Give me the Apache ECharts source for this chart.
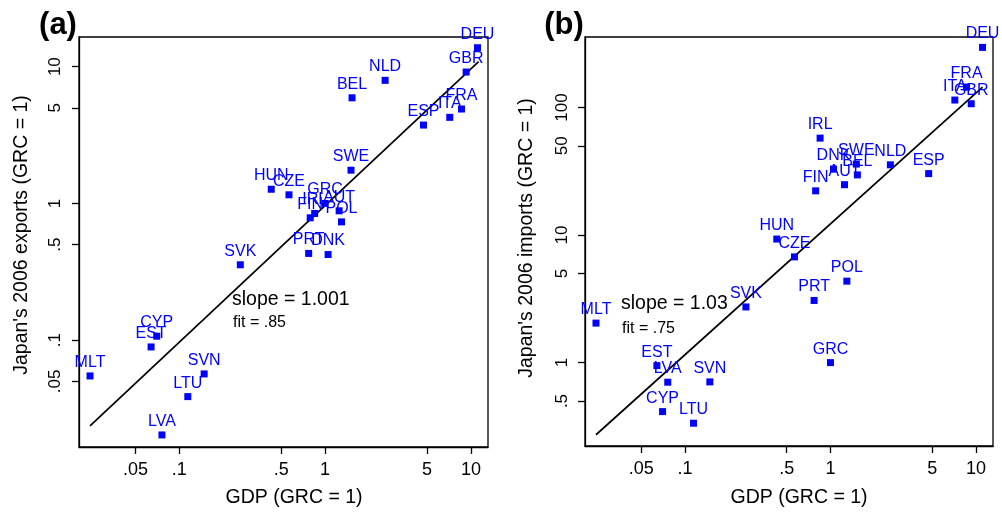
<!DOCTYPE html>
<html>
<head>
<meta charset="utf-8">
<script src="https://cdn.jsdelivr.net/npm/echarts@6/dist/echarts.min.js"></script>
<style>
html,body{margin:0;padding:0;background:#fff;}
#chart{width:1002px;height:513px;}
</style>
</head>
<body>
<div id="chart"></div>
<script>
// ---- data ----
const countries = ['DEU','GBR','FRA','ITA','ESP','NLD','BEL','SWE','AUT','DNK','POL','GRC','IRL','FIN','PRT','CZE','HUN','SVK','SVN','LTU','LVA','EST','CYP','MLT'];
const gdp     = [11.1, 9.28, 8.62, 7.16, 4.73, 2.58, 1.53, 1.505, 1.248, 1.048, 1.295, 1, 0.848, 0.79, 0.771, 0.565, 0.427, 0.262, 0.148, 0.1143, 0.076, 0.064, 0.070, 0.0244];
const exportsJ = [13.75, 9.13, 4.90, 4.26, 3.74, 7.94, 5.92, 1.75, 0.883, 0.423, 0.733, 1, 0.845, 0.785, 0.431, 1.156, 1.27, 0.356, 0.0567, 0.0387, 0.0203, 0.0893, 0.107, 0.0548];
const importsJ = [295.6, 106.9, 144.5, 114.3, 30.3, 35.5, 29.6, 36.0, 24.8, 32.9, 4.35, 1, 57.5, 22.2, 3.07, 6.74, 9.3, 2.73, 0.706, 0.335, 0.702, 0.947, 0.413, 2.04];
const exportsFitX = [0.0244, 11.3];
const exportsFitY = [0.0236, 10.86];
const importsFitX = [0.0244, 11.1];
const importsFitY = [0.272, 144.5];
const xTicks = [0.05, 0.1, 0.5, 1, 5, 10];
const yTicksA = [0.05, 0.1, 0.5, 1, 5, 10];
const yTicksB = [0.5, 1, 5, 10, 50, 100];
const xRange = [0.0205, 13.1];
const yRangeA = [0.01657, 16.47];
const yRangeB = [0.222, 356.6];

const FONT = '"Liberation Sans", Arial, Helvetica, sans-serif';
const BLUE = '#0000ff';
const fmt = v => (v < 1 ? String(v).replace(/^0\./, '.') : String(v));

function xAxisOf(gridIndex) {
  return {
    type: 'log', logBase: 10, gridIndex, min: xRange[0], max: xRange[1],
    axisLine: {show: true, lineStyle: {color: '#000', width: 1.3}},
    axisTick: {show: true, inside: false, length: 7, lineStyle: {color: '#000', width: 1.3}, customValues: xTicks},
    axisLabel: {customValues: xTicks, formatter: fmt, color: '#000', fontSize: 18, fontFamily: FONT, margin: 14},
    splitLine: {show: false}, minorTick: {show: false}
  };
}
function yAxisOf(gridIndex, range, ticks, margin) {
  return {
    type: 'log', logBase: 10, gridIndex, min: range[0], max: range[1],
    axisLine: {show: true, lineStyle: {color: '#000', width: 1.3}},
    axisTick: {show: true, inside: false, length: 7, lineStyle: {color: '#000', width: 1.3}, customValues: ticks},
    axisLabel: {customValues: ticks, formatter: fmt, color: '#000', fontSize: 17, fontFamily: FONT, rotate: 90, margin},
    splitLine: {show: false}, minorTick: {show: false}
  };
}
function pts(ys) {
  return countries.map((c, i) => ({name: c, value: [gdp[i], ys[i]]}));
}
function scatterOf(idx, ys) {
  return {
    type: 'scatter', xAxisIndex: idx, yAxisIndex: idx, data: pts(ys),
    symbol: 'rect', symbolSize: 7, itemStyle: {color: BLUE, opacity: 1}, z: 3,
    label: {show: true, position: 'top', distance: 2, formatter: '{b}', color: BLUE, fontSize: 16, fontFamily: FONT},
    emphasis: {disabled: true}, animation: false
  };
}
function lineOf(idx, xs, ys) {
  return {
    type: 'line', xAxisIndex: idx, yAxisIndex: idx,
    data: xs.map((x, i) => [x, ys[i]]), showSymbol: false, symbol: 'none',
    lineStyle: {color: '#000', width: 1.7}, z: 2, animation: false
  };
}
function txt(x, y, text, size, opts) {
  opts = opts || {};
  return {
    type: 'text', x, y, rotation: opts.rot || 0, silent: true,
    style: {text, fontSize: size, fontFamily: FONT, fontWeight: opts.bold ? 'bold' : 'normal',
      fill: '#000', textAlign: opts.align || 'center', textVerticalAlign: 'middle'}
  };
}

const chart = echarts.init(document.getElementById('chart'), null, {renderer: 'canvas'});
chart.setOption({
  animation: false,
  backgroundColor: '#fff',
  grid: [
    {left: 79, right: 514, top: 37, bottom: 66, show: true, borderColor: '#000', borderWidth: 1.3, backgroundColor: 'transparent'},
    {left: 585, right: 9, top: 37, bottom: 67, show: true, borderColor: '#000', borderWidth: 1.3, backgroundColor: 'transparent'}
  ],
  xAxis: [xAxisOf(0), xAxisOf(1)],
  yAxis: [yAxisOf(0, yRangeA, yTicksA, 15), yAxisOf(1, yRangeB, yTicksB, 14)],
  series: [
    lineOf(0, exportsFitX, exportsFitY),
    scatterOf(0, exportsJ),
    lineOf(1, importsFitX, importsFitY),
    scatterOf(1, importsJ)
  ],
  graphic: [
    txt(58, 25, '(a)', 31, {bold: true}),
    txt(564, 25, '(b)', 31, {bold: true}),
    txt(294, 498, 'GDP (GRC = 1)', 19.5),
    txt(799, 498, 'GDP (GRC = 1)', 19.5),
    txt(22, 235, "Japan's 2006 exports (GRC = 1)", 19.5, {rot: Math.PI / 2}),
    txt(527, 238, "Japan's 2006 imports (GRC = 1)", 19.5, {rot: Math.PI / 2}),
    txt(232, 300, 'slope = 1.001', 19.5, {align: 'left'}),
    txt(233, 323, 'fit = .85', 16, {align: 'left'}),
    txt(621, 304, 'slope = 1.03', 19.5, {align: 'left'}),
    txt(622, 329, 'fit = .75', 16, {align: 'left'})
  ]
});
</script>
</body>
</html>
